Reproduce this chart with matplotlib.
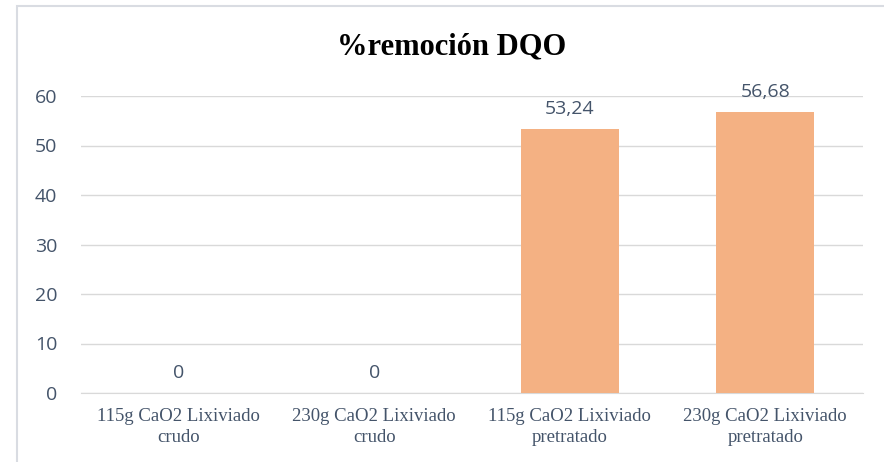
import matplotlib
matplotlib.use("Agg")
import matplotlib.pyplot as plt
from matplotlib.patches import Rectangle

categories = ["115g CaO2 Lixiviado\ncrudo", "230g CaO2 Lixiviado\ncrudo",
              "115g CaO2 Lixiviado\npretratado", "230g CaO2 Lixiviado\npretratado"]
values = [0, 0, 53.24, 56.68]
value_labels = ["0", "0", "53,24", "56,68"]
yticks = [0, 10, 20, 30, 40, 50, 60]

W, H = 884, 462
fig = plt.figure(figsize=(W / 100, H / 100), dpi=100)
ax = fig.add_axes([81 / W, 69 / H, (863 - 81) / W, (393 - 96) / H])

# figure border (light gray)
fig.patches.append(Rectangle((17 / W, -0.1), 1.2, 1 - 6 / H + 0.1, transform=fig.transFigure,
                             fill=False, edgecolor="#D9DCE2", linewidth=1.5))

x = list(range(len(categories)))
ax.bar(x, values, width=0.5, color="#F4B183", zorder=3)
ax.set_xlim(-0.5, len(categories) - 0.5)
ax.set_ylim(0, 60)
ax.set_yticks(yticks)
ax.set_yticklabels([str(t) for t in yticks], fontsize=14, color="#44546A", family="Open Sans")
ax.grid(axis="y", color="#D9D9D9", linewidth=1, zorder=0)
ax.set_axisbelow(True)
for s in ax.spines.values():
    s.set_visible(False)
ax.spines["bottom"].set_visible(True)
ax.spines["bottom"].set_color("#D9D9D9")
ax.tick_params(axis="both", length=0)
ax.tick_params(axis="y", pad=17)
ax.set_xticks(x)
ax.set_xticklabels(categories, fontsize=13.5, color="#44546A", family="Liberation Serif", linespacing=1.3)
ax.tick_params(axis="x", pad=11)

for xi, v, lab in zip(x, values, value_labels):
    ax.annotate(lab, (xi, v), xytext=(0, 8), textcoords="offset points",
                ha="center", va="bottom", fontsize=14, color="#44546A", family="Open Sans")

fig.text(452 / W, 1 - 47 / H, "%remoción DQO", ha="center", va="center",
         fontsize=22, fontweight="bold", family="Liberation Serif", color="black")

fig.savefig("out.png", dpi=100)
